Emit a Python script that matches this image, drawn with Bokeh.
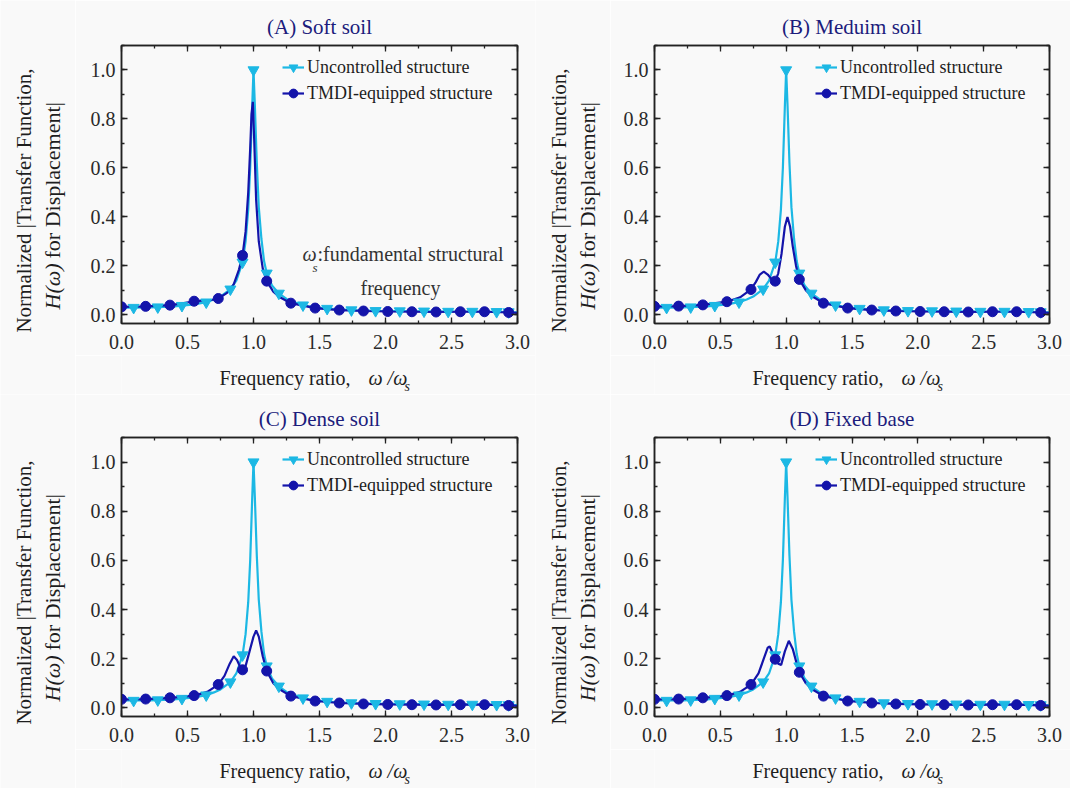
import math
from bokeh.plotting import figure
from bokeh.models import (Range1d, LinearAxis, SingleIntervalTicker, Label, Legend,
                          LegendItem, PrintfTickFormatter, CustomJSTickFormatter)
from bokeh.layouts import column, row
from bokeh.embed import file_html
from bokeh.resources import INLINE

# ---------------- data ----------------
titles = ["(A) Soft soil", "(B) Meduim soil", "(C) Dense soil", "(D) Fixed base"]
legend_labels = ["Uncontrolled structure", "TMDI-equipped structure"]
x_title = ["Frequency ratio,", "\u03c9 /\u03c9", "s"]
y_title = ["Normalized |Transfer Function,", "H(\u03c9)", "for Displacement|"]
note_text = ["\u03c9", "s", ":fundamental structural", "frequency"]

# uncontrolled structure (same in all panels)
unc_x = [0.0, 0.092, 0.2, 0.275, 0.4, 0.458, 0.55, 0.642, 0.7, 0.75, 0.825, 0.87, 0.917, 0.94,
         0.96, 0.975, 0.99, 1.0, 1.01, 1.025, 1.04, 1.06, 1.08, 1.1, 1.14, 1.192, 1.25, 1.3,
         1.375, 1.45, 1.558, 1.742, 1.925, 2.108, 2.292, 2.475, 2.658, 2.842, 2.933, 3.0]
unc_y = [0.030, 0.030, 0.031, 0.032, 0.035, 0.038, 0.043, 0.052, 0.063, 0.075, 0.105, 0.14,
         0.215, 0.30, 0.43, 0.60, 0.85, 1.0, 0.86, 0.62, 0.44, 0.31, 0.22, 0.17, 0.12, 0.088,
         0.065, 0.053, 0.040, 0.032, 0.026, 0.020, 0.017, 0.016, 0.015, 0.014, 0.014, 0.013,
         0.012, 0.011]
unc_marker_x = [0.092, 0.275, 0.458, 0.642, 0.825, 0.917, 1.0, 1.1, 1.192, 1.375, 1.558,
                1.742, 1.925, 2.108, 2.292, 2.475, 2.658, 2.842, 2.933]

tmdi_marker_x = [0.0, 0.183, 0.367, 0.55, 0.733, 0.917, 1.1, 1.283, 1.467, 1.65, 1.833,
                 2.017, 2.2, 2.383, 2.567, 2.75, 2.933]

tail_x = [1.283, 1.467, 1.65, 1.833, 2.017, 2.2, 2.383, 2.567, 2.75, 2.933, 3.0]
tail_y = [0.048, 0.028, 0.020, 0.016, 0.014, 0.013, 0.012, 0.013, 0.013, 0.010, 0.008]

tmdi_a_x = [0.0, 0.183, 0.367, 0.45, 0.55, 0.62, 0.68, 0.733, 0.8, 0.85, 0.89, 0.917, 0.94,
            0.96, 0.975, 0.985, 0.995, 1.005, 1.02, 1.04, 1.07, 1.1, 1.15, 1.2] + tail_x
tmdi_a_y = [0.033, 0.035, 0.040, 0.046, 0.056, 0.058, 0.061, 0.067, 0.09, 0.125, 0.185, 0.243,
            0.34, 0.50, 0.68, 0.82, 0.87, 0.72, 0.47, 0.30, 0.19, 0.138, 0.095, 0.072] + tail_y

tmdi_b_x = [0.0, 0.183, 0.367, 0.55, 0.65, 0.733, 0.77, 0.8, 0.83, 0.86, 0.89, 0.917, 0.94,
            0.965, 0.99, 1.01, 1.03, 1.05, 1.075, 1.1, 1.15, 1.2] + tail_x
tmdi_b_y = [0.035, 0.036, 0.041, 0.054, 0.072, 0.104, 0.135, 0.165, 0.177, 0.165, 0.145, 0.138,
            0.17, 0.25, 0.36, 0.40, 0.36, 0.28, 0.20, 0.145, 0.10, 0.075] + tail_y

tmdi_c_x = [0.0, 0.183, 0.367, 0.55, 0.65, 0.733, 0.78, 0.82, 0.85, 0.875, 0.9, 0.917, 0.94,
            0.97, 1.0, 1.02, 1.04, 1.07, 1.1, 1.15, 1.2] + tail_x
tmdi_c_y = [0.035, 0.036, 0.041, 0.050, 0.065, 0.095, 0.13, 0.18, 0.21, 0.195, 0.165, 0.155,
            0.17, 0.23, 0.29, 0.315, 0.29, 0.21, 0.15, 0.10, 0.075] + tail_y

tmdi_d_x = [0.0, 0.183, 0.367, 0.55, 0.65, 0.733, 0.79, 0.83, 0.86, 0.875, 0.9, 0.917, 0.94,
            0.962, 0.99, 1.02, 1.05, 1.08, 1.1, 1.15, 1.2] + tail_x
tmdi_d_y = [0.035, 0.036, 0.041, 0.050, 0.065, 0.095, 0.14, 0.20, 0.245, 0.25, 0.22, 0.198,
            0.18, 0.175, 0.23, 0.273, 0.24, 0.18, 0.145, 0.10, 0.075] + tail_y

tmdi_sets = [(tmdi_a_x, tmdi_a_y), (tmdi_b_x, tmdi_b_y), (tmdi_c_x, tmdi_c_y), (tmdi_d_x, tmdi_d_y)]

x_ticks_interval = 0.5
y_ticks_interval = 0.2
X_LO, X_HI = 0.0, 3.0
Y_LO, Y_HI = -0.035, 1.10

# ---------------- style ----------------
FONT = "Liberation Serif"
CYAN = "#1cb8e4"
NAVY = "#1414aa"
TITLE_C = "#1c1c7c"
TXT = "#1e1e1e"
NOTE_C = "#333333"
BG = "#f9f9f9"

PANEL_W, PANEL_H = 535, 394
YLAB_W = 75
XLAB_H = 39


def pick(xs, ys, sel):
    lut = {round(a, 3): b for a, b in zip(xs, ys)}
    return [lut[round(s, 3)] for s in sel]


def blank_fig(w, h):
    f = figure(width=w, height=h, frame_width=w, frame_height=h,
               x_range=Range1d(0, w), y_range=Range1d(0, h), title=None,
               min_border_left=0, min_border_right=0, min_border_top=0, min_border_bottom=0,
               x_axis_type=None, y_axis_type=None,
               output_backend="svg", toolbar_location=None)
    f.outline_line_color = None
    f.grid.visible = False
    f.background_fill_color = BG
    f.border_fill_color = BG
    return f


def make_panel(idx, frame):
    fw, fh, bl, br, bt, bb = frame  # bl, bb measured from the whole panel
    main_h = PANEL_H - XLAB_H
    main_w = PANEL_W - YLAB_W
    p = figure(width=main_w, height=main_h, frame_width=fw, frame_height=fh,
               min_border_left=bl - YLAB_W, min_border_right=br, min_border_top=bt,
               min_border_bottom=main_h - bt - fh,
               x_range=Range1d(X_LO, X_HI), y_range=Range1d(Y_LO, Y_HI),
               x_axis_type=None, y_axis_type=None, output_backend="svg",
               toolbar_location=None, title=titles[idx])
    p.background_fill_color = BG
    p.border_fill_color = BG
    p.outline_line_color = "#222222"
    p.outline_line_width = 1.5
    p.grid.visible = False
    p.title.align = "center"
    p.title.text_font = FONT
    p.title.text_font_style = "normal"
    p.title.text_font_size = "21px"
    p.title.text_color = TITLE_C
    p.title.standoff = 13

    for place in ["below", "left", "above", "right"]:
        horiz = place in ("below", "above")
        ticker = SingleIntervalTicker(interval=x_ticks_interval if horiz else y_ticks_interval,
                                      num_minor_ticks=2)
        ax = LinearAxis(ticker=ticker)
        ax.axis_line_color = "#222222"
        ax.axis_line_width = 1.5
        ax.major_tick_line_color = "#222222"
        ax.minor_tick_line_color = "#222222"
        ax.major_tick_line_width = 1.3
        ax.minor_tick_line_width = 1.3
        ax.major_tick_in = 6
        ax.major_tick_out = 0
        ax.minor_tick_in = 3
        ax.minor_tick_out = 0
        if place in ("below", "left"):
            ax.formatter = PrintfTickFormatter(format="%.1f")
            ax.major_label_text_font = FONT
            ax.major_label_text_font_size = "20px"
            ax.major_label_text_color = "#2a2a2a"
            ax.major_label_standoff = 11 if place == "below" else 6
        else:
            ax.formatter = CustomJSTickFormatter(code="return ''")
            ax.major_label_text_font_size = "0px"
            ax.major_label_standoff = 0
        p.add_layout(ax, place)

    # px (relative to frame top-left) -> data
    def dx(px):
        return X_LO + px * (X_HI - X_LO) / fw

    def dy(py):
        return Y_HI - py * (Y_HI - Y_LO) / fh

    tx, ty = tmdi_sets[idx]
    l1 = p.line(unc_x, unc_y, line_color=CYAN, line_width=2.2)
    l2 = p.line(tx, ty, line_color=NAVY, line_width=2.2)
    m1 = p.scatter(unc_marker_x, pick(unc_x, unc_y, unc_marker_x), marker="inverted_triangle",
                   size=11, fill_color=CYAN, line_color=CYAN)
    m2 = p.scatter(tmdi_marker_x, pick(tx, ty, tmdi_marker_x), marker="circle",
                   size=10, fill_color=NAVY, line_color=NAVY)

    leg = Legend(items=[LegendItem(label=legend_labels[0], renderers=[l1, m1]),
                        LegendItem(label=legend_labels[1], renderers=[l2, m2])],
                 location=(161, fh - 59), padding=0, margin=0, spacing=4,
                 glyph_width=22, glyph_height=22, label_height=22, label_standoff=3,
                 border_line_color=None, background_fill_alpha=0)
    leg.label_text_font = FONT
    leg.label_text_font_size = "18px"
    leg.label_text_color = TXT
    p.add_layout(leg)

    if idx == 0:
        nc = dict(text_font=FONT, text_color=NOTE_C, text_baseline="middle")
        p.add_layout(Label(x=dx(181), y=dy(208), text=note_text[0], text_align="left",
                           text_font_size="20px", text_font_style="italic", **nc))
        p.add_layout(Label(x=dx(191), y=dy(222), text=note_text[1], text_align="left",
                           text_font_size="13px", text_font_style="italic", **nc))
        p.add_layout(Label(x=dx(196), y=dy(208), text=note_text[2],
                           text_align="left", text_font_size="20px", **nc))
        p.add_layout(Label(x=dx(279), y=dy(242), text=note_text[3], text_align="center",
                           text_font_size="20px", **nc))

    common = dict(text_font=FONT, text_color=TXT, text_baseline="middle")

    # x-axis title: own strip under the plot (its frame lines up with the plot frame)
    xf = blank_fig(main_w, XLAB_H)
    yc = PANEL_H - (bt + fh + 54)
    xf.add_layout(Label(x=98, y=yc, text=x_title[0], text_align="left",
                        text_font_size="20px", **common))
    xf.add_layout(Label(x=247, y=yc, text=x_title[1], text_align="left",
                        text_font_size="20px", text_font_style="italic", **common))
    xf.add_layout(Label(x=283, y=yc - 9, text=x_title[2], text_align="left",
                        text_font_size="14px", text_font_style="italic", **common))

    # y-axis title: own strip left of the plot
    yf = blank_fig(YLAB_W, PANEL_H)
    yf.add_layout(Label(x=23, y=PANEL_H - (bt + 155), text=y_title[0], angle=math.pi / 2,
                        text_align="center", text_font_size="21px", **common))
    yf.add_layout(Label(x=52, y=PANEL_H - (bt + 264), text=y_title[1], angle=math.pi / 2,
                        text_align="left", text_font_size="22px", text_font_style="italic",
                        **common))
    yf.add_layout(Label(x=52, y=PANEL_H - (bt + 213), text=y_title[2], angle=math.pi / 2,
                        text_align="left", text_font_size="22px", **common))

    return row(yf, column(p, xf, spacing=0), spacing=0)


frames = [
    (396, 278, 121, 18, 45, 71),
    (395, 278, 119, 21, 45, 71),
    (396, 279, 121, 18, 43, 72),
    (395, 279, 119, 21, 43, 72),
]
panels = [make_panel(i, frames[i]) for i in range(4)]
layout = column(row(panels[0], panels[1], spacing=0), row(panels[2], panels[3], spacing=0),
                spacing=0)

open("out.html", "w").write(file_html(layout, INLINE, "Transfer functions"))
